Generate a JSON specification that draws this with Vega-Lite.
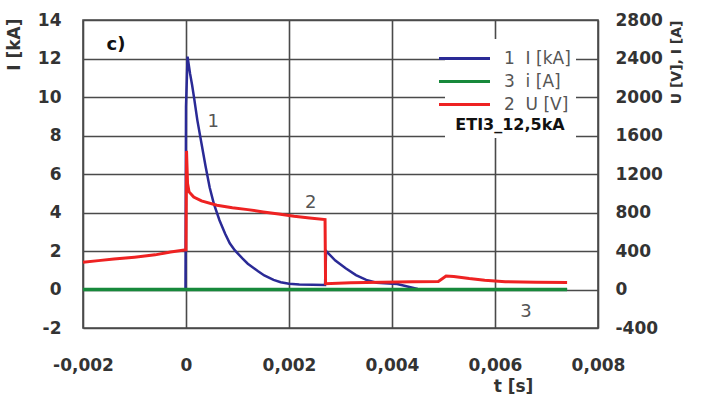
{
  "$schema": "https://vega.github.io/schema/vega-lite/v6.json",
  "width": 515,
  "height": 308,
  "autosize": {"type": "none"},
  "padding": {"left": 83, "top": 20, "right": 104, "bottom": 78},
  "background": "white",
  "config": {
    "view": {"stroke": "#4a4a4a", "strokeWidth": 1.6},
    "font": "DejaVu Sans",
    "axis": {
      "labelFont": "DejaVu Sans", "labelFontWeight": "bold", "labelFontSize": 17, "labelColor": "#333333",
      "titleFont": "DejaVu Sans", "titleFontWeight": "bold", "titleColor": "#333333",
      "domain": false, "ticks": false, "gridColor": "#4a4a4a", "gridWidth": 1.6, "gridOpacity": 1
    }
  },
  "datasets": {
    "blue": [
      {"t": -0.002, "v": 0, "s": "1\u00a0\u00a0I [kA]"},
      {"t": -0.00001, "v": 0, "s": "1\u00a0\u00a0I [kA]"},
      {"t": 0, "v": 9.5, "s": "1\u00a0\u00a0I [kA]"},
      {"t": 0.00003, "v": 12.1, "s": "1\u00a0\u00a0I [kA]"},
      {"t": 0.00008, "v": 11.2, "s": "1\u00a0\u00a0I [kA]"},
      {"t": 0.00012, "v": 10.6, "s": "1\u00a0\u00a0I [kA]"},
      {"t": 0.00016, "v": 9.9, "s": "1\u00a0\u00a0I [kA]"},
      {"t": 0.00022, "v": 8.8, "s": "1\u00a0\u00a0I [kA]"},
      {"t": 0.0003, "v": 7.6, "s": "1\u00a0\u00a0I [kA]"},
      {"t": 0.00038, "v": 6.4, "s": "1\u00a0\u00a0I [kA]"},
      {"t": 0.00046, "v": 5.3, "s": "1\u00a0\u00a0I [kA]"},
      {"t": 0.00054, "v": 4.46, "s": "1\u00a0\u00a0I [kA]"},
      {"t": 0.00065, "v": 3.6, "s": "1\u00a0\u00a0I [kA]"},
      {"t": 0.00076, "v": 2.9, "s": "1\u00a0\u00a0I [kA]"},
      {"t": 0.00085, "v": 2.4, "s": "1\u00a0\u00a0I [kA]"},
      {"t": 0.00095, "v": 2.03, "s": "1\u00a0\u00a0I [kA]"},
      {"t": 0.0011, "v": 1.6, "s": "1\u00a0\u00a0I [kA]"},
      {"t": 0.0012, "v": 1.34, "s": "1\u00a0\u00a0I [kA]"},
      {"t": 0.0014, "v": 0.95, "s": "1\u00a0\u00a0I [kA]"},
      {"t": 0.00152, "v": 0.73, "s": "1\u00a0\u00a0I [kA]"},
      {"t": 0.0017, "v": 0.5, "s": "1\u00a0\u00a0I [kA]"},
      {"t": 0.00184, "v": 0.38, "s": "1\u00a0\u00a0I [kA]"},
      {"t": 0.002, "v": 0.3, "s": "1\u00a0\u00a0I [kA]"},
      {"t": 0.0022, "v": 0.26, "s": "1\u00a0\u00a0I [kA]"},
      {"t": 0.0027, "v": 0.24, "s": "1\u00a0\u00a0I [kA]"},
      {"t": 0.00272, "v": 2.0, "s": "1\u00a0\u00a0I [kA]"},
      {"t": 0.0029, "v": 1.5, "s": "1\u00a0\u00a0I [kA]"},
      {"t": 0.0031, "v": 1.1, "s": "1\u00a0\u00a0I [kA]"},
      {"t": 0.0033, "v": 0.75, "s": "1\u00a0\u00a0I [kA]"},
      {"t": 0.0035, "v": 0.5, "s": "1\u00a0\u00a0I [kA]"},
      {"t": 0.0037, "v": 0.35, "s": "1\u00a0\u00a0I [kA]"},
      {"t": 0.0041, "v": 0.28, "s": "1\u00a0\u00a0I [kA]"},
      {"t": 0.0045, "v": 0.03, "s": "1\u00a0\u00a0I [kA]"},
      {"t": 0.0074, "v": 0.01, "s": "1\u00a0\u00a0I [kA]"}
    ],
    "green": [
      {"t": -0.002, "v": 0, "s": "3\u00a0\u00a0i [A]"},
      {"t": 0.0074, "v": 0, "s": "3\u00a0\u00a0i [A]"}
    ],
    "red": [
      {"t": -0.002, "v": 284, "s": "2\u00a0\u00a0U [V]"},
      {"t": -0.0017, "v": 300, "s": "2\u00a0\u00a0U [V]"},
      {"t": -0.0014, "v": 316, "s": "2\u00a0\u00a0U [V]"},
      {"t": -0.001, "v": 336, "s": "2\u00a0\u00a0U [V]"},
      {"t": -0.0006, "v": 360, "s": "2\u00a0\u00a0U [V]"},
      {"t": -0.0003, "v": 390, "s": "2\u00a0\u00a0U [V]"},
      {"t": -0.00003, "v": 410, "s": "2\u00a0\u00a0U [V]"},
      {"t": 0, "v": 412, "s": "2\u00a0\u00a0U [V]"},
      {"t": 0.00001, "v": 1440, "s": "2\u00a0\u00a0U [V]"},
      {"t": 0.00003, "v": 1100, "s": "2\u00a0\u00a0U [V]"},
      {"t": 0.00006, "v": 1014, "s": "2\u00a0\u00a0U [V]"},
      {"t": 0.00015, "v": 960, "s": "2\u00a0\u00a0U [V]"},
      {"t": 0.0003, "v": 920, "s": "2\u00a0\u00a0U [V]"},
      {"t": 0.0006, "v": 876, "s": "2\u00a0\u00a0U [V]"},
      {"t": 0.0009, "v": 850, "s": "2\u00a0\u00a0U [V]"},
      {"t": 0.0012, "v": 830, "s": "2\u00a0\u00a0U [V]"},
      {"t": 0.0015, "v": 806, "s": "2\u00a0\u00a0U [V]"},
      {"t": 0.0018, "v": 784, "s": "2\u00a0\u00a0U [V]"},
      {"t": 0.0021, "v": 762, "s": "2\u00a0\u00a0U [V]"},
      {"t": 0.0024, "v": 744, "s": "2\u00a0\u00a0U [V]"},
      {"t": 0.0027, "v": 726, "s": "2\u00a0\u00a0U [V]"},
      {"t": 0.00271, "v": 60, "s": "2\u00a0\u00a0U [V]"},
      {"t": 0.0032, "v": 70, "s": "2\u00a0\u00a0U [V]"},
      {"t": 0.0038, "v": 76, "s": "2\u00a0\u00a0U [V]"},
      {"t": 0.0044, "v": 80, "s": "2\u00a0\u00a0U [V]"},
      {"t": 0.0049, "v": 84, "s": "2\u00a0\u00a0U [V]"},
      {"t": 0.00505, "v": 140, "s": "2\u00a0\u00a0U [V]"},
      {"t": 0.0052, "v": 136, "s": "2\u00a0\u00a0U [V]"},
      {"t": 0.0055, "v": 114, "s": "2\u00a0\u00a0U [V]"},
      {"t": 0.0058, "v": 96, "s": "2\u00a0\u00a0U [V]"},
      {"t": 0.0062, "v": 80, "s": "2\u00a0\u00a0U [V]"},
      {"t": 0.0068, "v": 76, "s": "2\u00a0\u00a0U [V]"},
      {"t": 0.0074, "v": 74, "s": "2\u00a0\u00a0U [V]"}
    ],
    "curveLabels": [
      {"t": 0.00053, "v": 8.7, "label": "1"},
      {"t": 0.00242, "v": 4.5, "label": "2"},
      {"t": 0.0066, "v": -1.15, "label": "3"}
    ],
    "panel": [
      {"t": -0.00136, "v": 12.7, "label": "c)"}
    ]
  },
  "encoding": {
    "x": {
      "field": "t", "type": "quantitative",
      "scale": {"domain": [-0.002, 0.008], "nice": false},
      "axis": {
        "values": [-0.002, 0, 0.002, 0.004, 0.006, 0.008],
        "labelExpr": "datum.value == 0 ? '0' : (datum.value < 0 ? '-' + replace(format(-datum.value, '.3f'), '.', ',') : replace(format(datum.value, '.3f'), '.', ','))",
        "labelPadding": 29, "labelFlush": false, "labelOverlap": false,
        "title": "t [s]", "titleFontSize": 17, "titleX": 430, "titleY": 58, "titleBaseline": "middle", "titleAlign": "center"
      }
    }
  },
  "layer": [
    {
      "encoding": {
        "y": {
          "field": "v", "type": "quantitative",
          "scale": {"domain": [-2, 14], "nice": false},
          "axis": {
            "values": [-2, 0, 2, 4, 6, 8, 10, 12, 14],
            "labelExpr": "datum.value < 0 ? '-' + format(-datum.value, 'd') : format(datum.value, 'd')",
            "labelPadding": 22, "labelFlush": false, "labelOverlap": false,
            "title": "I [kA]", "titleFontSize": 17, "titleAngle": -90, "titleX": -69, "titleY": -2, "titleAlign": "right", "titleBaseline": "middle"
          }
        }
      },
      "layer": [
        {
          "data": {"name": "blue"},
          "mark": {"type": "line", "strokeWidth": 2.5},
          "encoding": {
            "color": {
              "field": "s", "type": "nominal",
              "scale": {
                "domain": ["1\u00a0\u00a0I [kA]", "3\u00a0\u00a0i [A]", "2\u00a0\u00a0U [V]"],
                "range": ["#2a2a96", "#17893b", "#ee2222"]
              },
              "legend": {
                "orient": "none", "legendX": 362, "legendY": 19,
                "title": "ETI3_12,5kA", "titleOrient": "bottom", "titleAnchor": "middle",
                "titleFont": "DejaVu Sans", "titleFontWeight": "bold", "titleFontSize": 16, "titleColor": "#111111", "titlePadding": 4,
                "symbolType": "M-2,0H2", "symbolSize": 650, "symbolStrokeWidth": 3,
                "labelFont": "DejaVu Sans", "labelFontSize": 17, "labelColor": "#555555", "labelOffset": 25,
                "fillColor": "white", "padding": 5, "rowPadding": 0
              }
            }
          }
        },
        {
          "data": {"name": "curveLabels"},
          "mark": {"type": "text", "font": "DejaVu Sans", "fontSize": 18, "color": "#555555"},
          "encoding": {"text": {"field": "label"}}
        },
        {
          "data": {"name": "panel"},
          "mark": {"type": "text", "font": "DejaVu Sans", "fontSize": 18, "fontWeight": "bold", "color": "#111111"},
          "encoding": {"text": {"field": "label"}}
        }
      ]
    },
    {
      "encoding": {
        "y": {
          "field": "v", "type": "quantitative",
          "scale": {"domain": [-400, 2800], "nice": false},
          "axis": {
            "orient": "right", "grid": false,
            "values": [-400, 0, 400, 800, 1200, 1600, 2000, 2400, 2800],
            "labelExpr": "datum.value < 0 ? '-' + format(-datum.value, 'd') : format(datum.value, 'd')",
            "labelPadding": 17, "labelFlush": false, "labelOverlap": false,
            "title": "U [V], I [A]", "titleFontSize": 14, "titleAngle": -90, "titleX": 78, "titleY": 0, "titleAlign": "right", "titleBaseline": "middle"
          }
        },
        "color": {"field": "s", "type": "nominal"}
      },
      "layer": [
        {"data": {"name": "green"}, "mark": {"type": "line", "strokeWidth": 3.5}},
        {"data": {"name": "red"}, "mark": {"type": "line", "strokeWidth": 3}}
      ]
    }
  ],
  "resolve": {"scale": {"y": "independent"}}
}
